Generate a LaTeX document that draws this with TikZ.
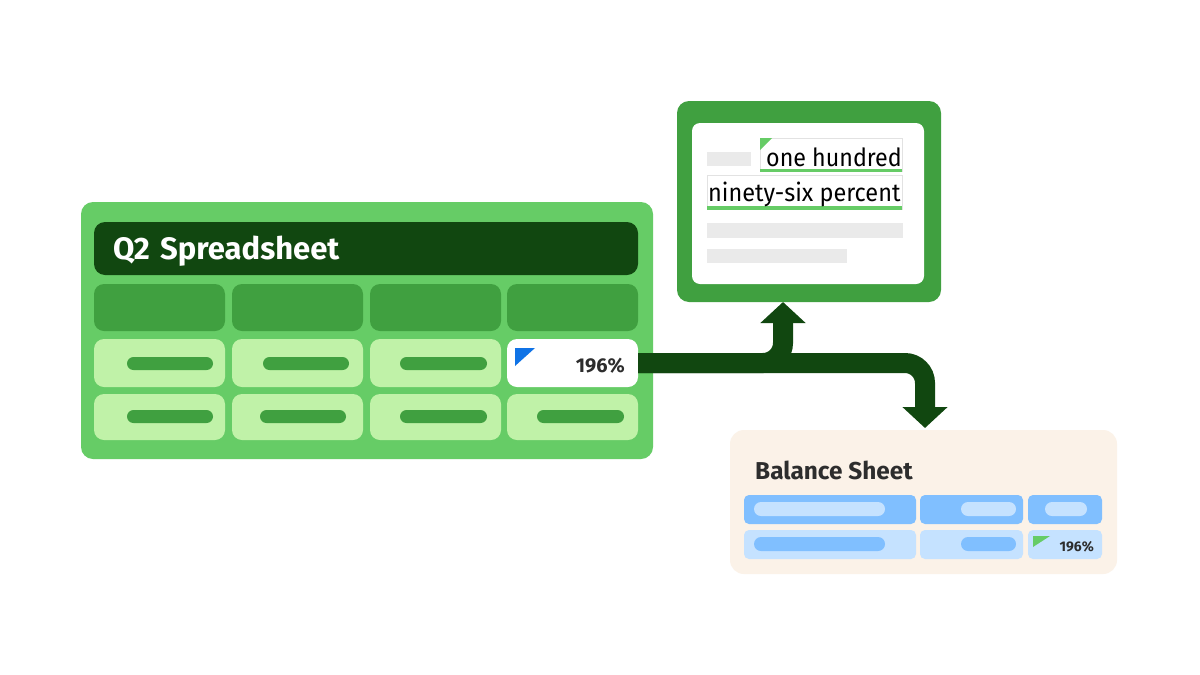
\documentclass[tikz,border=0pt]{standalone}
\usepackage{fontspec}
\setmainfont{Fira Sans}
\usetikzlibrary{arrows.meta,calc}
\definecolor{lgreen}{RGB}{102,204,102}
\definecolor{mgreen}{RGB}{64,160,64}
\definecolor{pgreen}{RGB}{192,242,168}
\definecolor{dgreen}{RGB}{17,71,16}
\definecolor{cream}{RGB}{251,242,232}
\definecolor{bblue}{RGB}{128,191,255}
\definecolor{lblue}{RGB}{197,226,255}
\definecolor{tagblue}{RGB}{16,115,230}
\definecolor{lgray}{RGB}{234,234,234}
\definecolor{bgray}{RGB}{226,226,226}
\definecolor{txtc}{RGB}{45,45,45}
\newcommand{\blk}[7]{\node[blkbase,#6,minimum width={#4-#2},minimum height={#5-#3}] (#1) at (#2,#3) {#7};}
\tikzset{
  blkbase/.style={rectangle,anchor=north west,inner sep=0pt,outer sep=0pt,draw=none},
  conn/.style={draw=dgreen,line width=20pt,rounded corners=20pt,-{Triangle[width=44pt,length=21pt]}},
  bar/.style={rounded corners=6.5pt},
}
\begin{document}
\begin{tikzpicture}[x=1pt,y=-1pt]
\useasboundingbox[fill=white] (0,0) rectangle (1200,675);
% main spreadsheet
\blk{sheet}{81}{202}{653}{459}{fill=lgreen,rounded corners=12pt}{}
\blk{title}{94}{222}{638}{275}{fill=dgreen,rounded corners=11pt}{}
\node[anchor=base west,text=white,font=\fontsize{31}{31}\selectfont\bfseries,inner sep=0pt] (titletxt) at (113,259) {Q2\,\,Spreadsheet};
% header cells
\blk{h1}{94}{284}{225}{331}{fill=mgreen,rounded corners=10pt}{}
\blk{h2}{232}{284}{363}{331}{fill=mgreen,rounded corners=10pt}{}
\blk{h3}{370}{284}{501}{331}{fill=mgreen,rounded corners=10pt}{}
\blk{h4}{507}{284}{638}{331}{fill=mgreen,rounded corners=10pt}{}
% row 1
\blk{c11}{94}{339}{225}{387}{fill=pgreen,rounded corners=10pt}{}
\blk{c12}{232}{339}{363}{387}{fill=pgreen,rounded corners=10pt}{}
\blk{c13}{370}{339}{501}{387}{fill=pgreen,rounded corners=10pt}{}
\blk{c14}{507}{339}{638}{387}{fill=white,rounded corners=10pt}{}
% row 2
\blk{c21}{94}{394}{225}{440}{fill=pgreen,rounded corners=10pt}{}
\blk{c22}{232}{394}{363}{440}{fill=pgreen,rounded corners=10pt}{}
\blk{c23}{370}{394}{501}{440}{fill=pgreen,rounded corners=10pt}{}
\blk{c24}{507}{394}{638}{440}{fill=pgreen,rounded corners=10pt}{}
% bars
\blk{b11}{127}{357}{213}{370}{fill=mgreen,bar}{}
\blk{b12}{263}{357}{349}{370}{fill=mgreen,bar}{}
\blk{b13}{400}{357}{487}{370}{fill=mgreen,bar}{}
\blk{b21}{127}{410}{213}{423}{fill=mgreen,bar}{}
\blk{b22}{260}{410}{346}{423}{fill=mgreen,bar}{}
\blk{b23}{400}{410}{487}{423}{fill=mgreen,bar}{}
\blk{b24}{537}{410}{624}{423}{fill=mgreen,bar}{}
\fill[tagblue] (515,348) -- (535,348) -- (515,366) -- cycle;
\node[anchor=base east,text=txtc,font=\fontsize{20}{20}\selectfont\bfseries,inner sep=0pt] (pct) at (625,372) {196\%};
% top document
\blk{top}{677}{101}{941}{302}{fill=mgreen,rounded corners=12pt}{}
\blk{page}{692}{123}{924}{284}{fill=white,rounded corners=8pt}{}
\blk{g0}{707}{152}{751}{166}{fill=lgray}{}
\blk{t1}{760}{138}{902}{171}{draw=bgray,line width=1pt}{}
\fill[lgreen] (760,168.5) rectangle (902,172);
\fill[lgreen] (760,138) -- (772,138) -- (760,150) -- cycle;
\node[anchor=base west,text=black,font=\fontsize{25}{25}\selectfont,inner sep=0pt] (l1) at (766,166) {\scalebox{0.93}[1]{one hundred}};
\blk{t2}{707}{175}{902}{209}{draw=bgray,line width=1pt}{}
\fill[lgreen] (707,206) rectangle (902,209.5);
\node[anchor=base west,text=black,font=\fontsize{25}{25}\selectfont,inner sep=0pt] (l2) at (708,201) {\scalebox{0.94}[1]{ninety-six percent}};
\blk{g1}{707}{223}{903}{238}{fill=lgray}{}
\blk{g2}{707}{249}{847}{263}{fill=lgray}{}
% balance sheet
\blk{bal}{730}{430}{1117}{574}{fill=cream,rounded corners=14pt}{}
\node[anchor=base west,text=txtc,font=\fontsize{24.4}{24.4}\selectfont\bfseries,inner sep=0pt] (baltxt) at (755,479) {Balance Sheet};
\blk{d11}{744}{495}{916}{524}{fill=bblue,rounded corners=5pt}{}
\blk{d12}{920}{495}{1023}{524}{fill=bblue,rounded corners=5pt}{}
\blk{d13}{1028}{495}{1102}{524}{fill=bblue,rounded corners=5pt}{}
\blk{d21}{744}{530}{916}{559}{fill=lblue,rounded corners=5pt}{}
\blk{d22}{920}{530}{1023}{559}{fill=lblue,rounded corners=5pt}{}
\blk{d23}{1028}{530}{1102}{559}{fill=lblue,rounded corners=5pt}{}
\blk{e11}{754}{502}{885}{516}{fill=lblue,rounded corners=7pt}{}
\blk{e12}{961}{502}{1016}{516}{fill=lblue,rounded corners=7pt}{}
\blk{e13}{1045}{502}{1087}{516}{fill=lblue,rounded corners=7pt}{}
\blk{e21}{754}{537}{885}{551}{fill=bblue,rounded corners=7pt}{}
\blk{e22}{961}{537}{1016}{551}{fill=bblue,rounded corners=7pt}{}
\fill[lgreen] (1033,536) -- (1050,536) -- (1033,547) -- cycle;
\node[anchor=base east,text=txtc,font=\fontsize{14}{14}\selectfont\bfseries,inner sep=0pt] (pct2) at (1094,551) {196\%};
% connectors
\coordinate (upend) at ($(top.south)+(-26,0)$);
\coordinate (downend) at ($(bal.north)+(1.5,-2)$);
\draw[conn] (c14.east) -- (c14.east -| downend) -- (downend);
\draw[conn] (c14.east) -- (c14.east -| upend) -- (upend);
\end{tikzpicture}
\end{document}
